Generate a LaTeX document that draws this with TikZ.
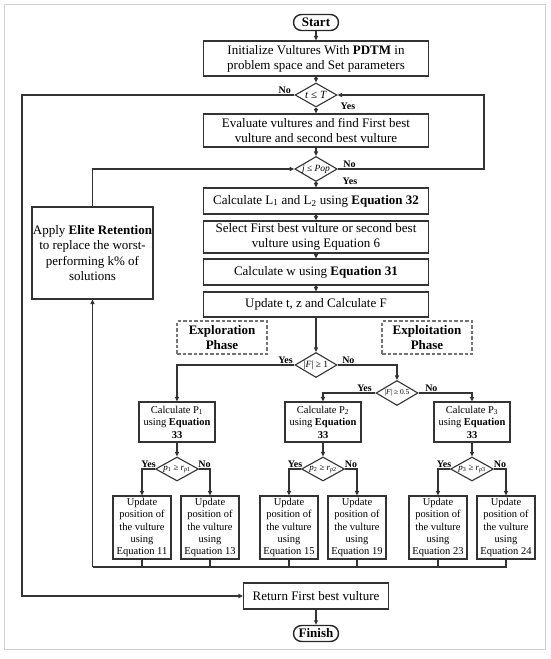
\documentclass[tikz,border=0pt]{standalone}
\usepackage{fontspec}
\setmainfont{Liberation Serif}
\usetikzlibrary{shapes.geometric,arrows.meta,calc}
\begin{document}
\begin{tikzpicture}[x=1pt,y=-1pt,
  ln/.style={draw=black!80, line width=1.1pt},
  conn/.style={ln, -{Triangle[length=4.5pt,width=4pt]}},
  mainbox/.style={draw=black!80, line width=1.1pt, minimum width=225pt, inner sep=0pt, align=center, font=\fontsize{13}{15}\selectfont},
  term/.style={draw=black!85, line width=1.4pt, rounded corners=8pt, minimum width=45pt, minimum height=16pt, inner sep=0pt, font=\bfseries\fontsize{13}{14}\selectfont},
  dec/.style={draw=black!80, line width=1.1pt, shape=diamond, aspect=1.75, inner sep=0pt, minimum width=42pt, minimum height=25pt, font=\fontsize{9.5}{10}\selectfont},
  phase/.style={draw=black!55, line width=1.1pt, dash pattern=on 3.5pt off 2pt, minimum width=90pt, minimum height=33pt, inner sep=0pt, align=center, font=\bfseries\fontsize{13}{15.5}\selectfont},
  pbox/.style={draw=black!80, line width=1.1pt, minimum width=76pt, minimum height=40pt, inner sep=0pt, align=center, font=\fontsize{10.5}{12.5}\selectfont},
  ubox/.style={draw=black!80, line width=1.1pt, minimum width=58pt, minimum height=63pt, inner sep=0pt, align=center, font=\fontsize{10.5}{12.2}\selectfont},
  lbl/.style={inner sep=0.5pt, font=\bfseries\fontsize{10}{10}\selectfont}
]
\useasboundingbox (0,0) rectangle (550,659);
\draw[black!18, line width=1pt] (4.5,4.5) rectangle (545.5,649);

\node[term] (start) at (316,22.5) {Start};
\node[mainbox, minimum height=35pt] (init) at (316,58.5) {Initialize Vultures With \textbf{PDTM} in\\problem space and Set parameters};
\node[dec, minimum height=24pt, font=\fontsize{11}{12}\selectfont] (tT) at (316,95) {\textit{t} ≤ \textit{T}};
\node[mainbox, minimum height=33pt] (eval) at (316,130.5) {Evaluate vultures and find First best\\vulture and second best vulture};
\node[dec] (jP) at (316,169) {\textit{j} ≤ \textit{Pop}};
\node[mainbox, minimum height=26pt] (calcL) at (316,201) {Calculate L\textsubscript{1} and L\textsubscript{2} using \textbf{Equation 32}};
\node[mainbox, minimum height=32pt, font=\fontsize{13}{15.5}\selectfont] (sel) at (316,237) {Select First best vulture or second best\\vulture using Equation 6};
\node[mainbox, minimum height=26pt] (calcw) at (316,272) {Calculate w using \textbf{Equation 31}};
\node[mainbox, minimum height=25pt] (updt) at (316,304.5) {Update t, z and Calculate F};

\node[phase] (explor) at (222,337.5) {Exploration\\Phase};
\node[phase] (exploit) at (427,337.5) {Exploitation\\Phase};

\node[dec] (F1) at (316,365) {|\textit{F}| ≥ 1};
\node[dec, font=\fontsize{7.5}{9}\selectfont] (F05) at (397,393) {|\textit{F}| ≥ 0.5};

\node[pbox] (P1) at (177,422) {Calculate P\textsubscript{1}\\using \textbf{Equation}\\\textbf{33}};
\node[pbox] (P2) at (323,422) {Calculate P\textsubscript{2}\\using \textbf{Equation}\\\textbf{33}};
\node[pbox] (P3) at (472,422) {Calculate P\textsubscript{3}\\using \textbf{Equation}\\\textbf{33}};

\node[dec, minimum width=43pt, minimum height=24pt, font=\fontsize{9}{10}\selectfont] (d1) at (177,469) {\textit{p}\textsubscript{1} ≥ \textit{r}\textsubscript{\textit{p}1}};
\node[dec, minimum width=43pt, minimum height=24pt, font=\fontsize{9}{10}\selectfont] (d2) at (323,469) {\textit{p}\textsubscript{2} ≥ \textit{r}\textsubscript{\textit{p}2}};
\node[dec, minimum width=43pt, minimum height=24pt, font=\fontsize{9}{10}\selectfont] (d3) at (472,469) {\textit{p}\textsubscript{3} ≥ \textit{r}\textsubscript{\textit{p}3}};

\node[ubox] (u1) at (142,527.5) {Update\\position of\\the vulture\\using\\Equation 11};
\node[ubox] (u2) at (210,527.5) {Update\\position of\\the vulture\\using\\Equation 13};
\node[ubox] (u3) at (289,527.5) {Update\\position of\\the vulture\\using\\Equation 15};
\node[ubox] (u4) at (357,527.5) {Update\\position of\\the vulture\\using\\Equation 19};
\node[ubox] (u5) at (438,527.5) {Update\\position of\\the vulture\\using\\Equation 23};
\node[ubox] (u6) at (506,527.5) {Update\\position of\\the vulture\\using\\Equation 24};

\node[mainbox, minimum width=145pt, minimum height=26pt] (ret) at (316,596) {Return First best vulture};
\node[term] (fin) at (316,633.5) {Finish};

\node[mainbox, minimum width=121pt, minimum height=92pt, font=\fontsize{13}{15.6}\selectfont] (elite) at (92.5,253) {Apply \textbf{Elite Retention}\\to replace the worst-\\performing k\% of\\solutions};

\coordinate (cL) at (92.5,567);
\coordinate (rR) at (484,169);
\coordinate (lL) at (22,95);

% main column
\draw[conn] (start) -- (init);
\draw[conn] (init) -- (tT);
\draw[conn] (tT) -- (eval);
\draw[conn] (eval) -- (jP);
\draw[conn] (jP) -- (calcL);
\draw[conn] (calcL) -- (sel);
\draw[conn] (sel) -- (calcw);
\draw[conn] (calcw) -- (updt);
\draw[conn] (updt) -- (F1);

% branches
\draw[conn] (F1.west) -| (P1.north);
\draw[conn] (F1.east) -| (F05.north);
\draw[conn] (F05.west) -| (P2.north);
\draw[conn] (F05.east) -| (P3.north);
\draw[conn] (P1) -- (d1);
\draw[conn] (P2) -- (d2);
\draw[conn] (P3) -- (d3);
\draw[conn] (d1.west) -| (u1.north);
\draw[conn] (d1.east) -| (u2.north);
\draw[conn] (d2.west) -| (u3.north);
\draw[conn] (d2.east) -| (u4.north);
\draw[conn] (d3.west) -| (u5.north);
\draw[conn] (d3.east) -| (u6.north);

% collector
\draw[ln] (u6.south) |- (cL);
\foreach \u in {u1,u2,u3,u4,u5}{\draw[ln] (\u.south) -- (\u.south |- cL);}
\draw[conn] (cL) -- (elite.south);
\draw[conn] (elite.north) |- (jP.west);

% loops
\draw[conn] (jP.east) -- (rR) |- (tT.east);
\draw[conn] (tT.west) -- (lL) |- (ret.west);
\draw[conn] (ret) -- (fin);

% labels
\node[lbl, anchor=south east] at ($(tT.west)+(-3,-1)$) {No};
\node[lbl, anchor=north west] at ($(tT.south)+(24,-5)$) {Yes};
\node[lbl, anchor=south west] at ($(jP.east)+(5,-1)$) {No};
\node[lbl, anchor=north west] at ($(jP.south)+(26,-5)$) {Yes};
\node[lbl, anchor=south east] at ($(F1.west)+(-1,-1)$) {Yes};
\node[lbl, anchor=south west] at ($(F1.east)+(4,-1)$) {No};
\node[lbl, anchor=south east] at ($(F05.west)+(-3,-1)$) {Yes};
\node[lbl, anchor=south west] at ($(F05.east)+(6,-1)$) {No};
\foreach \d/\a/\b in {d1/u1/u2,d2/u3/u4,d3/u5/u6}{
  \node[lbl, anchor=south] at ($(\d.west)!0.5!(\d.west -| \a.north)+(0,-1)$) {Yes};
  \node[lbl, anchor=south] at ($(\d.east)!0.5!(\d.east -| \b.north)+(0,-1)$) {No};
}
\end{tikzpicture}
\end{document}
